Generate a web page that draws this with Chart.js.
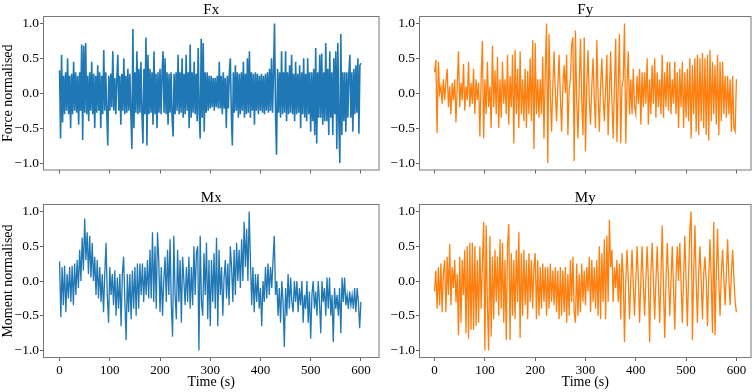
<!DOCTYPE html>
<html>
<head>
<meta charset="utf-8">
<title>Normalised forces and moments</title>
<script src="https://cdn.jsdelivr.net/npm/chart.js@4/dist/chart.umd.min.js"></script>
<style>
  html, body { margin: 0; padding: 0; background: #fff; }
  #wrap { position: relative; width: 754px; height: 392px; overflow: hidden; }
  #wrap canvas { position: absolute; left: 0; top: 0; }
</style>
</head>
<body>
<div id="wrap">
  <canvas id="c-fx" width="754" height="392"></canvas>
  <canvas id="c-fy" width="754" height="392"></canvas>
  <canvas id="c-mx" width="754" height="392"></canvas>
  <canvas id="c-my" width="754" height="392"></canvas>
</div>
<script>
const fxValues = [
  0.33, -0.65, 0.55, -0.42, 0.25, -0.3, 0.3, -0.25, 0.5, -0.3,
  0.25, -0.5, 0.28, -0.3, 0.45, -0.25, 0.3, -0.28, 0.25, -0.45,
  0.3, -0.25, 0.7, -0.67, 0.68, -0.28, 0.72, -0.3, 0.25, -0.4,
  0.3, -0.25, 0.45, -0.3, 0.28, -0.5, 0.25, -0.28, 0.4, -0.25,
  0.3, -0.5, 0.25, -0.3, 0.62, -0.25, 0.3, -0.28, -0.75, 0.25,
  -0.25, 0.28, -0.2, 0.6, -0.25, 0.22, -0.3, 0.2, 0.55, -0.25,
  0.25, -0.45, 0.28, -0.25, 0.5, -0.3, 0.25, -0.28, 0.35, -0.25,
  0.28, -0.3, -0.8, 0.92, -0.5, 0.3, -0.28, 0.6, -0.3, 0.35,
  -0.28, 0.45, -0.3, -0.72, 0.35, -0.3, 0.8, -0.75, 0.55, -0.3,
  0.35, -0.28, 0.3, -0.45, 0.6, -0.3, 0.28, -0.5, 0.3, -0.28,
  0.35, -0.3, 0.28, 0.6, -0.28, 0.5, -0.3, 0.3, -0.45, 0.28,
  -0.28, 0.3, -0.35, -0.62, 0.28, -0.3, 0.3, -0.25, 0.55, -0.3,
  0.3, -0.28, 0.5, -0.35, 0.28, -0.3, 0.55, -0.25, 0.3, -0.5,
  0.7, -0.35, 0.3, -0.28, 0.45, -0.3, 0.28, -0.4, 0.65, -0.3,
  -0.65, 0.78, -0.35, 0.72, -0.55, 0.3, -0.28, 0.3, -0.25, 0.25,
  -0.22, 0.25, -0.2, 0.22, -0.25, 0.22, -0.2, 0.25, -0.22, 0.45,
  -0.22, 0.25, -0.3, 0.3, -0.22, 0.22, -0.5, 0.25, -0.22, 0.3,
  0.5, -0.3, -0.75, 0.3, -0.28, 0.4, -0.25, 0.3, -0.35, 0.28,
  -0.3, 0.3, -0.25, 0.45, -0.35, 0.28, -0.3, 0.5, -0.28, 0.6,
  -0.35, 0.3, -0.25, 0.28, -0.45, 0.3, -0.25, 0.28, -0.3, 0.25,
  -0.25, 0.28, -0.28, 0.25, -0.3, 0.28, -0.25, 0.3, -0.28, 0.35,
  -0.25, 0.5, -0.28, 0.3, 1.0, -0.3, -0.88, 0.35, -0.28, 0.3,
  -0.35, 0.6, -0.3, 0.3, -0.28, 0.6, -0.4, 0.3, -0.3, 0.4,
  -0.28, 0.55, -0.3, 0.28, -0.4, 0.45, -0.3, 0.28, -0.28, 0.4,
  -0.5, 0.3, -0.3, 0.5, -0.35, 0.28, -0.4, 0.5, -0.3, 0.3,
  -0.55, 0.3, -0.4, 0.35, -0.6, 0.65, -0.72, 0.3, -0.35, 0.55,
  -0.35, 0.57, -0.45, 0.3, -0.4, 0.72, -0.4, 0.35, -0.6, 0.6,
  -0.35, 0.3, -0.6, 0.5, -0.3, 0.6, -0.8, 0.72, -0.4, -1.0,
  0.85, -0.6, 0.3, -0.4, 0.3, -0.55, 0.3, -0.35, 0.28, 0.55,
  -0.35, 0.3, -0.55, 0.35, -0.3, 0.4, -0.28, 0.5, -0.58, 0.4,
  0.43
];

const fyValues = [
  0.3, 0.48, -0.57, 0.45, 0.0, 0.1, -0.15, 0.2, -0.1, 0.15,
  0.35, -0.2, 0.1, -0.3, 0.15, -0.1, 0.2, -0.42, 0.1, 0.6,
  -0.2, 0.15, -0.1, 0.42, -0.25, 0.1, -0.1, 0.45, -0.2, 0.15,
  -0.15, 0.35, -0.3, 0.2, -0.1, 0.15, -0.62, 0.2, 0.75, -0.65,
  0.2, -0.3, 0.45, -0.2, 0.1, -0.5, 0.68, -0.2, 0.33, -0.3,
  0.52, -0.5, 0.2, -0.35, 0.45, -0.15, 0.2, -0.3, 0.55, -0.45,
  0.25, -0.2, 0.55, -0.72, 0.62, -0.3, 0.35, -0.5, 0.6, -0.3,
  0.2, -0.4, 0.35, -0.5, 0.32, -0.3, 0.5, -0.4, 0.76, -0.8,
  0.72, -0.3, 0.2, -0.35, 0.2, -0.3, 0.52, -0.65, 0.3, 1.0,
  -1.0, 0.85, 0.0, -0.55, 0.1, 0.6, 0.0, -0.4, 0.1, 0.55,
  -0.05, -0.55, 0.1, 0.4, 0.0, 0.55, -0.6, 0.05, 0.2, 0.7,
  0.8, -0.97, 0.9, -0.1, -0.65, 0.1, 0.78, -0.1, -0.6, 0.8,
  -0.83, 0.1, 0.62, -0.1, -0.45, 0.1, 0.5, -0.1, -0.5, 0.76,
  0.0, -0.55, 0.1, 0.5, -0.05, -0.4, 0.05, 0.55, -0.6, 0.0,
  0.6, -0.1, -0.65, 0.1, 0.78, -0.7, 0.1, 0.85, -0.72, 0.1,
  0.2, 1.0, -0.72, 0.1, 0.6, -0.3, 0.2, -0.3, 0.35, -0.2,
  -0.3, 0.25, -0.15, 0.35, -0.45, 0.3, -0.2, 0.3, -0.15, 0.5,
  -0.45, 0.2, -0.3, 0.4, -0.15, 0.5, -0.35, 0.3, -0.2, 0.2,
  -0.3, 0.55, -0.35, 0.3, -0.2, 0.45, -0.25, 0.45, -0.3, 0.2,
  -0.15, 0.45, -0.3, 0.3, -0.5, 0.35, -0.2, 0.45, -0.5, 0.3,
  -0.35, 0.35, -0.4, 0.5, -0.65, 0.4, -0.3, 0.5, -0.55, 0.55,
  -0.6, 0.5, -0.4, 0.58, -0.5, 0.5, -0.6, 0.55, -0.68, 0.62,
  -0.4, 0.45, -0.3, 0.4, -0.45, 0.55, -0.6, 0.45, -0.4, 0.45,
  -0.3, 0.25, -0.35, 0.25, -0.3, 0.2, -0.55, 0.25, -0.5, -0.55,
  0.2
];

const mxValues = [
  0.28, -0.52, 0.2, -0.35, 0.22, -0.45, 0.1, -0.25, 0.2, -0.3,
  0.22, -0.35, 0.25, -0.2, 0.3, -0.1, 0.45, 0.0, 0.62, 0.15,
  0.9, 0.3, 0.7, 0.1, 0.65, 0.05, 0.55, 0.0, 0.35, -0.2,
  0.3, -0.25, 0.2, -0.3, 0.1, -0.45, 0.1, 0.55, -0.2, -0.6,
  0.2, -0.2, 0.1, -0.35, 0.15, -0.5, 0.05, -0.4, 0.1, -0.65,
  0.1, 0.35, -0.3, -0.85, 0.1, -0.45, 0.1, -0.55, 0.15, -0.4,
  0.2, -0.5, 0.25, -0.4, 0.25, -0.2, 0.25, -0.3, 0.2, -0.2,
  0.3, -0.25, 0.45, -0.25, 0.7, -0.3, 0.5, -0.4, 0.7, 0.3,
  -0.45, 0.2, -0.5, 0.0, 0.35, -0.3, 0.45, -0.2, 0.6, -0.35,
  -0.8, 0.65, -0.2, -0.55, 0.45, -0.3, 0.3, -0.6, 0.35, 0.0,
  -0.35, 0.2, -0.3, 0.35, -0.4, 0.2, -0.35, 0.5, -0.2, 0.4,
  0.5, -1.0, 0.65, -0.3, -0.5, 0.4, -0.2, 0.55, -0.55, 0.3,
  -0.65, 0.3, -0.3, 0.4, -0.4, 0.62, -0.65, 0.45, -0.2, 0.2,
  -0.5, 0.05, 0.3, -0.25, 0.25, -0.35, 0.5, 0.2, -0.3, 0.45,
  -0.2, 0.55, 0.0, 0.45, -0.1, 0.6, 0.0, 0.85, 0.2, 0.75,
  0.0, 1.0, 0.3, -0.35, 0.2, -0.45, 0.1, -0.3, 0.1, -0.4,
  -0.1, -0.65, 0.0, -0.3, 0.2, -0.25, 0.25, -0.2, 0.2, -0.1,
  0.3, 0.65, -0.2, 0.0, -0.5, -0.1, -0.6, 0.0, -0.3, -0.95,
  -0.1, -0.5, 0.1, -0.4, 0.05, -0.3, -0.45, 0.0, -0.3, 0.0,
  -0.45, -0.1, -0.35, 0.0, -0.6, -0.2, -0.4, 0.0, -0.6, -0.15,
  -0.83, -0.2, 0.0, -0.4, -0.15, -0.5, 0.0, -0.3, -0.75, 0.0,
  -0.3, -0.1, -0.5, 0.05, -0.4, 0.05, -0.5, -0.2, -0.88, -0.1,
  -0.4, -0.2, -0.5, -0.1, -0.75, 0.05, -0.3, 0.05, -0.35, -0.2,
  -0.4, -0.15, -0.35, -0.2, -0.4, -0.1, -0.45, -0.1, -0.3, -0.68,
  -0.3
];

const myValues = [
  -0.15, 0.15, -0.4, 0.2, -0.35, 0.25, -0.45, 0.1, 0.3, -0.45,
  0.35, -0.2, 0.53, -0.35, 0.2, -0.1, 0.3, -0.3, 0.1, -0.78,
  0.35, -0.6, 0.3, -0.2, 0.45, -0.75, 0.5, -0.83, 0.55, -0.7,
  0.55, -0.7, 0.5, -0.65, 0.3, -0.6, 0.5, -0.4, 0.25, 0.85,
  -1.0, 0.8, -0.35, -1.0, 0.65, -0.8, 0.35, -0.55, 0.45, -0.3,
  0.35, -0.5, 0.6, -0.4, 0.55, -0.6, 0.3, -0.85, 0.5, 0.82,
  -0.85, 0.4, -0.5, 0.3, -0.55, 0.45, -0.3, 0.7, -0.82, 0.4,
  -0.5, 0.45, -0.35, 0.3, -0.55, 0.4, -0.3, 0.3, -0.4, 0.2,
  0.4, -0.55, 0.3, -0.5, 0.2, -0.4, 0.25, -0.3, 0.2, -0.5,
  0.2, -0.4, 0.25, -0.3, 0.15, -0.35, 0.2, -0.45, 0.15, -0.55,
  0.2, -0.5, 0.15, -0.45, 0.2, -0.6, 0.1, -0.5, 0.3, -0.3,
  0.35, -0.45, -0.6, 0.25, -0.5, 0.1, -0.45, 0.25, -0.3, 0.15,
  -0.35, 0.2, -0.15, 0.35, -0.45, 0.3, -0.3, 0.2, -0.4, 0.3,
  -0.5, 0.5, -0.55, 0.4, -0.3, 0.6, -0.55, 0.65, -0.3, 0.88,
  0.2, 0.45, -0.3, 0.2, -0.1, 0.3, -0.3, 0.25, -0.55, 0.4,
  0.1, -0.88, 0.0, 0.45, 0.05, -0.55, 0.0, 0.45, -0.05, -0.5,
  0.0, 0.5, 0.05, -0.6, 0.0, 0.5, -0.05, -0.5, 0.0, 0.5,
  0.0, -0.88, 0.1, 0.55, 0.0, -0.55, 0.0, 0.5, -0.05, -0.6,
  0.05, 0.8, -0.1, -0.82, 0.0, 0.55, 0.05, -0.5, 0.0, 0.5,
  -0.1, -0.7, 0.05, 0.5, 0.0, 0.55, -0.05, -0.6, 0.05, 0.65,
  0.0, -0.65, 0.1, 0.75, 1.0, -0.85, 0.1, 0.8, 0.0, -0.6,
  0.1, 0.5, 0.0, -0.55, 0.1, 0.35, 0.0, -0.65, 0.05, 0.6,
  0.0, -0.75, 0.85, -0.78, 0.1, 0.75, 0.0, -0.5, 0.1, 0.45,
  0.05, -0.35, 0.1, 0.6, 0.05, -0.35, 0.1, 0.45, 0.05, -0.3,
  -0.45
];

const timeEnd = 600;
const xTicks = [0, 100, 200, 300, 400, 500, 600];
const yTicks = [-1, -0.5, 0, 0.5, 1];
const yTickLabels = ['\u22121.0', '\u22120.5', '0.0', '0.5', '1.0'];

const FONT = "'Liberation Serif', 'DejaVu Serif', serif";
const BLUE = '#1f77b4';
const ORANGE = '#ff7f0e';
const W = 754, H = 392;

// box = plot area [left, top, right, bottom] in page pixels
const panels = [
  { id: 'c-fx', title: 'Fx', values: fxValues, color: BLUE, lw: 1.6, box: [43.5, 16.5, 379, 170], xr: [-32, 636], yLabel: 'Force normalised', bottomRow: false },
  { id: 'c-fy', title: 'Fy', values: fyValues, color: ORANGE, lw: 1.3, box: [419.5, 16.5, 751, 170], xr: [-30, 629], yLabel: null, bottomRow: false },
  { id: 'c-mx', title: 'Mx', values: mxValues, color: BLUE, lw: 1.3, box: [43.5, 204.5, 379, 357.5], xr: [-32, 636], yLabel: 'Moment normalised', bottomRow: true },
  { id: 'c-my', title: 'My', values: myValues, color: ORANGE, lw: 1.3, box: [419.5, 204.5, 751, 357.5], xr: [-30, 629], yLabel: null, bottomRow: true },
];

const panelFrame = {
  id: 'panelFrame',
  afterDraw(chart, args, opts) {
    const { ctx, chartArea: a } = chart;
    ctx.save();
    ctx.strokeStyle = '#777';
    ctx.lineWidth = 1;
    ctx.strokeRect(a.left, a.top, a.right - a.left, a.bottom - a.top);
    ctx.fillStyle = '#000';
    ctx.font = `15px ${FONT}`;
    ctx.textAlign = 'center';
    ctx.textBaseline = 'alphabetic';
    ctx.fillText(opts.text, (a.left + a.right) / 2, a.top - 3);
    ctx.restore();
  }
};

function toPoints(vals) {
  const dt = timeEnd / (vals.length - 1);
  return vals.map((v, i) => ({ x: i * dt, y: v }));
}

panels.forEach((p) => {
  const [left, top, right, bottom] = p.box;
  const yW = 44;
  const xH = p.bottomRow ? 33.5 : 30;
  const padBottom = H - bottom - xH;
  new Chart(document.getElementById(p.id), {
    type: 'line',
    data: {
      datasets: [{
        data: toPoints(p.values),
        borderColor: p.color,
        borderWidth: p.lw,
        borderJoinStyle: 'miter',
        pointRadius: 0,
        tension: 0,
        fill: false,
      }]
    },
    plugins: [panelFrame],
    options: {
      responsive: false,
      animation: false,
      events: [],
      layout: { padding: { left: left - yW, top: top, right: W - right, bottom: padBottom } },
      plugins: {
        legend: { display: false },
        tooltip: { enabled: false },
        panelFrame: { text: p.title },
      },
      scales: {
        x: {
          type: 'linear',
          min: p.xr[0],
          max: p.xr[1],
          afterBuildTicks: (s) => { s.ticks = xTicks.map((v) => ({ value: v })); },
          afterFit: (s) => { s.height = xH; },
          grid: { drawOnChartArea: false, drawTicks: true, tickLength: 3.5, tickColor: '#666' },
          border: { display: false },
          ticks: {
            autoSkip: false, maxRotation: 0, padding: 2, color: '#000',
            font: { family: FONT, size: 13 },
            callback: (v) => (p.bottomRow ? String(v) : ''),
          },
          title: {
            display: p.bottomRow, text: 'Time (s)', color: '#000',
            font: { family: FONT, size: 14 }, padding: { top: 0, bottom: 0 },
          },
        },
        y: {
          type: 'linear',
          min: -1.1,
          max: 1.1,
          afterBuildTicks: (s) => { s.ticks = yTicks.map((v) => ({ value: v })); },
          afterFit: (s) => { s.width = yW; },
          grid: { drawOnChartArea: false, drawTicks: true, tickLength: 3.5, tickColor: '#666' },
          border: { display: false },
          ticks: {
            autoSkip: false, padding: 1, color: '#000',
            font: { family: FONT, size: 13.5 },
            callback: (v, i) => yTickLabels[i],
          },
          title: {
            display: !!p.yLabel, text: p.yLabel || '', color: '#000',
            font: { family: FONT, size: 14 }, padding: { top: 0, bottom: 0 },
          },
        },
      },
    },
  });
});
</script>
</body>
</html>
